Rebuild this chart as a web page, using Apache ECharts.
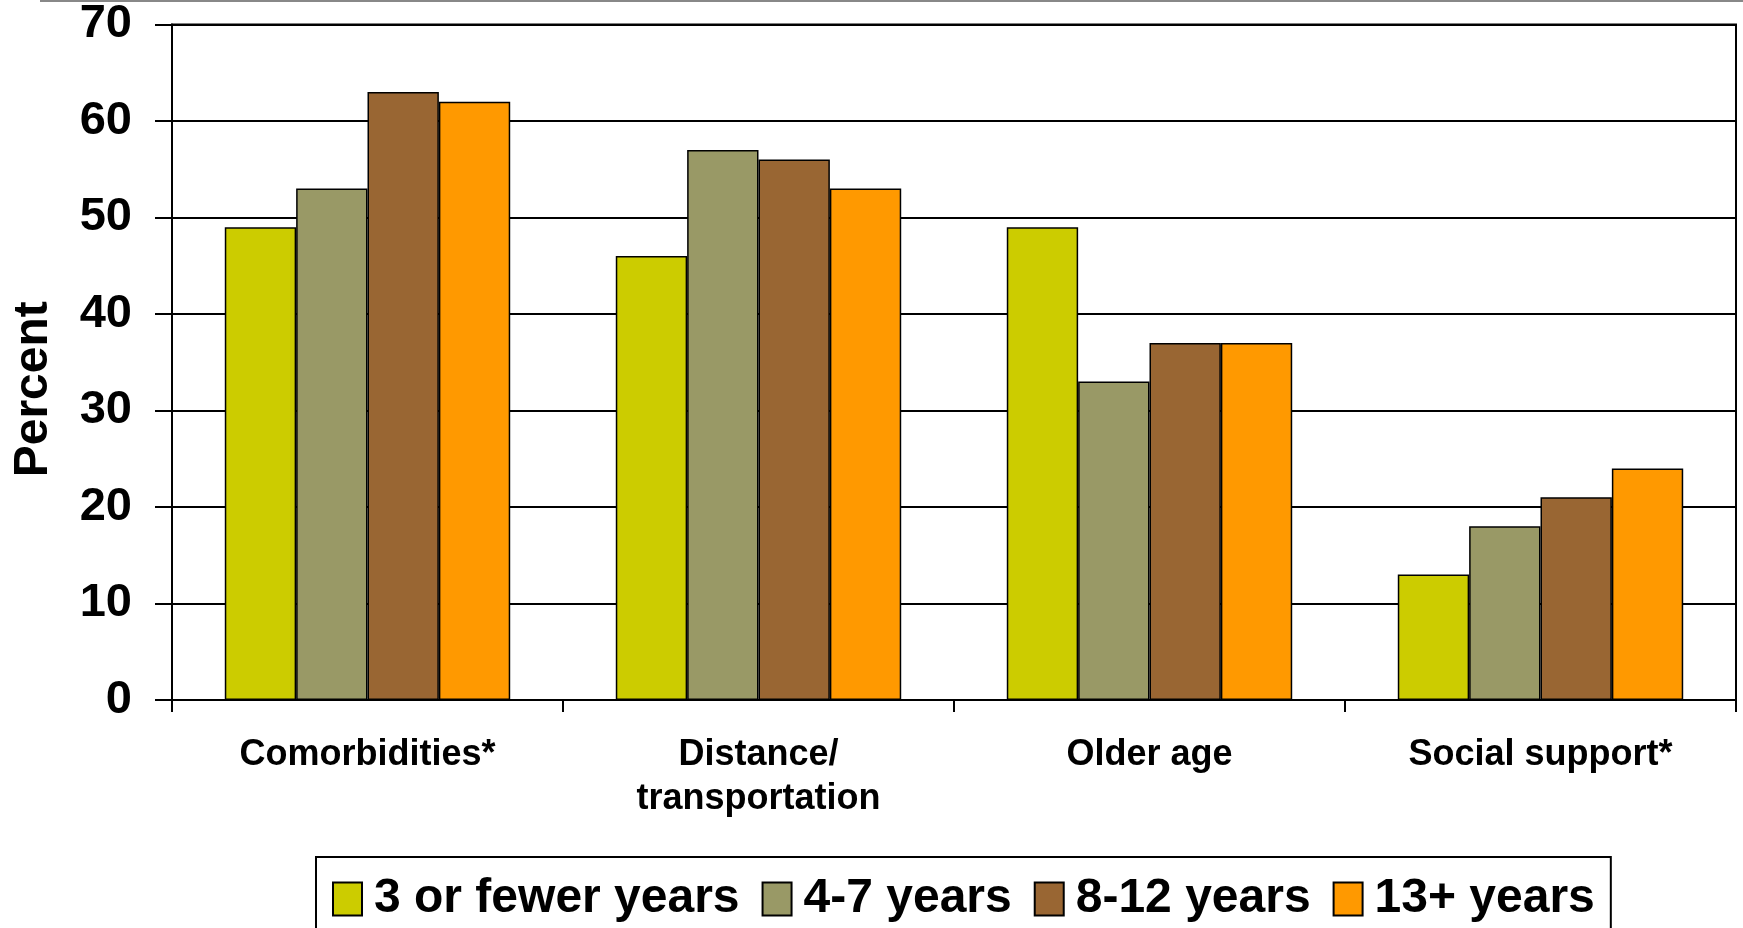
<!DOCTYPE html>
<html>
<head>
<meta charset="utf-8">
<script src="https://cdn.jsdelivr.net/npm/echarts@6/dist/echarts.min.js"></script>
<style>
  html, body { margin: 0; padding: 0; background: #fff; }
  #chart { width: 1743px; height: 928px; }
</style>
</head>
<body>
<div id="chart"></div>
<script>
// Reasons cited, grouped by years on dialysis
const categories = ['Comorbidities*', 'Distance/\ntransportation', 'Older age', 'Social support*'];
const seriesNames = ['3 or fewer years', '4-7 years', '8-12 years', '13+ years'];
const years3OrFewer = [49, 46, 49, 13];
const years4to7 = [53, 57, 33, 18];
const years8to12 = [63, 56, 37, 21];
const years13Plus = [62, 53, 37, 24];
const yTicks = [0, 10, 20, 30, 40, 50, 60, 70];

const colors = ['#CCCC00', '#999966', '#996633', '#FF9900'];
const values = [years3OrFewer, years4to7, years8to12, years13Plus];
const FONT = '"Liberation Sans", Arial, Helvetica, sans-serif';

const chart = echarts.init(document.getElementById('chart'), null, { renderer: 'canvas' });

chart.setOption({
  animation: false,
  backgroundColor: '#ffffff',
  textStyle: { fontFamily: FONT },
  grid: {
    left: 172, right: 7, top: 24.5, bottom: 228,
    outerBoundsMode: 'none',
    containLabel: false,
    show: true, borderColor: '#000', borderWidth: 2, backgroundColor: 'transparent'
  },
  legend: {
    data: seriesNames,
    left: 316,
    top: 857,
    padding: [18, 16, 30, 16],
    borderColor: '#000',
    borderWidth: 2,
    itemWidth: 29,
    itemHeight: 33,
    itemGap: 22,
    icon: 'rect',
    itemStyle: { borderColor: '#000', borderWidth: 2 },
    textStyle: {
      fontFamily: FONT, fontSize: 48, fontWeight: 'bold', color: '#000',
      lineHeight: 48, padding: [0, 0, 0, 7]
    }
  },
  xAxis: {
    type: 'category',
    data: categories,
    boundaryGap: true,
    axisLine: { lineStyle: { color: '#000', width: 2 } },
    axisTick: { show: true, length: 12, lineStyle: { color: '#000', width: 2 } },
    axisLabel: {
      margin: 33, color: '#000', fontFamily: FONT, fontSize: 36,
      fontWeight: 'bold', lineHeight: 44, interval: 0
    }
  },
  yAxis: {
    type: 'value',
    min: 0, max: 70, interval: 10,
    name: 'Percent',
    nameLocation: 'middle',
    nameGap: 114,
    nameRotate: 90,
    nameTextStyle: {
      fontFamily: FONT, fontSize: 48, fontWeight: 'bold', color: '#000',
      padding: [0, 54, 0, 0]
    },
    axisLine: { show: true, lineStyle: { color: '#000', width: 2 } },
    axisTick: { show: true, length: 17, lineStyle: { color: '#000', width: 2 } },
    splitLine: { show: true, lineStyle: { color: '#000', width: 2 } },
    axisLabel: {
      margin: 40, color: '#000', fontFamily: FONT, fontSize: 47, fontWeight: 'bold',
      formatter: v => (yTicks.includes(v) ? String(v) : '')
    }
  },
  series: seriesNames.map((name, i) => ({
    name,
    type: 'bar',
    data: values[i],
    barGap: '0%',
    barCategoryGap: '27%',
    itemStyle: { color: colors[i], borderColor: '#000', borderWidth: 1.5 }
  })),
  graphic: [{
    type: 'line',
    shape: { x1: 40, y1: 1, x2: 1743, y2: 1 },
    style: { stroke: '#888', lineWidth: 2 },
    silent: true
  }]
});
</script>
</body>
</html>
